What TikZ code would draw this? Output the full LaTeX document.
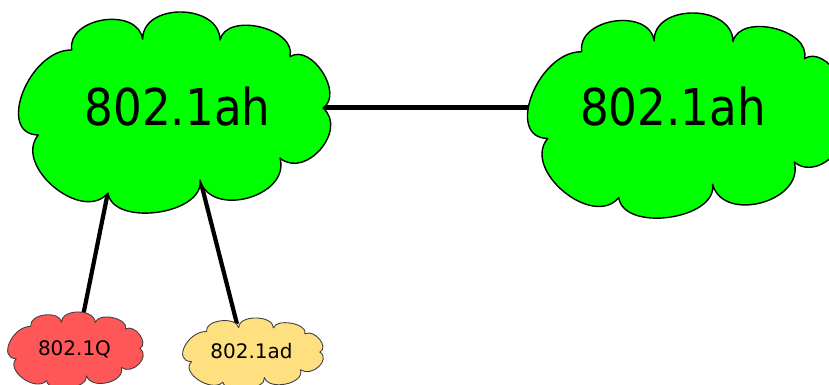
\documentclass[tikz,border=0pt]{standalone}
\usepackage{fontspec}
\newfontfamily\bigf[FakeStretch=0.89]{DejaVu Sans}
\newfontfamily\smallf{DejaVu Sans}
\definecolor{cgreen}{HTML}{00FF00}
\definecolor{cred}{HTML}{FF5757}
\definecolor{cyellow}{HTML}{FFE080}
\newcommand{\mycloudpath}{(71.7,50)
 .. controls (66.8,17.1) and (137.8,6.4) .. (142.7,39.3)
 .. controls (142.2,2.4) and (219.5,3.1) .. (220,40)
 .. controls (226.8,11.5) and (296.8,28.2) .. (290,56.7)
 .. controls (311.3,43) and (344.3,94.3) .. (323,108)
 .. controls (348.3,129.7) and (305.3,179.7) .. (280,158)
 .. controls (290.6,196.6) and (210.6,218.6) .. (200,180)
 .. controls (204.9,214.3) and (112.9,227.3) .. (108,193)
 .. controls (82.4,223.7) and (12.7,165.7) .. (38.3,135)
 .. controls (-4.4,134.3) and (29,49.3) .. (71.7,50)
 -- cycle}
\tikzset{
  bigcloud/.style={fill=cgreen, draw=black, line width=1.4pt, line join=round},
  smallcloud/.style={draw=black!75, line width=0.9pt, line join=round},
  conn/.style={draw=black, line width=4.2pt},
  bigtext/.style={inner sep=0pt, anchor=base, font=\bigf\fontsize{50.8}{60}\selectfont},
  smalltext/.style={inner sep=0pt, anchor=base, font=\smallf\fontsize{20}{24}\selectfont},
}
\begin{document}
\begin{tikzpicture}[x=1pt, y=-1pt]
\useasboundingbox (0,0) rectangle (829,385);
\clip (0,0) rectangle (829,385);
% connector end points on the cloud outlines
\coordinate (c1r) at (322,107.5);
\coordinate (c2l) at (534,107.5);
\coordinate (c1a) at (108,192);
\coordinate (c1b) at (200,179);
\coordinate (rq) at (83,316);
\coordinate (ya) at (237,324);
\draw[conn] (c1r) -- (c2l);
\draw[conn] (c1a) -- (rq);
\draw[conn] (c1b) -- (ya);
% clouds
\path[bigcloud] \mycloudpath;
\begin{scope}[shift={(508.6,0.76)}, xscale=1.02, yscale=1.02]
  \path[bigcloud] \mycloudpath;
\end{scope}
\begin{scope}[shift={(-0.39,307.4)}, xscale=0.4345, yscale=0.38]
  \path[smallcloud, fill=cred] \mycloudpath;
\end{scope}
\begin{scope}[shift={(174.3,313.7)}, xscale=0.4506, yscale=0.355]
  \path[smallcloud, fill=cyellow] \mycloudpath;
\end{scope}
% texts
\node[bigtext] (t1) at (177.5,125) {802.1ah};
\node[bigtext] (t2) at (673,125.5) {802.1ah};
\node[smalltext] (tq) at (74.5,355) {802.1Q};
\node[smalltext] (tad) at (251.5,358) {802.1ad};
\end{tikzpicture}
\end{document}
